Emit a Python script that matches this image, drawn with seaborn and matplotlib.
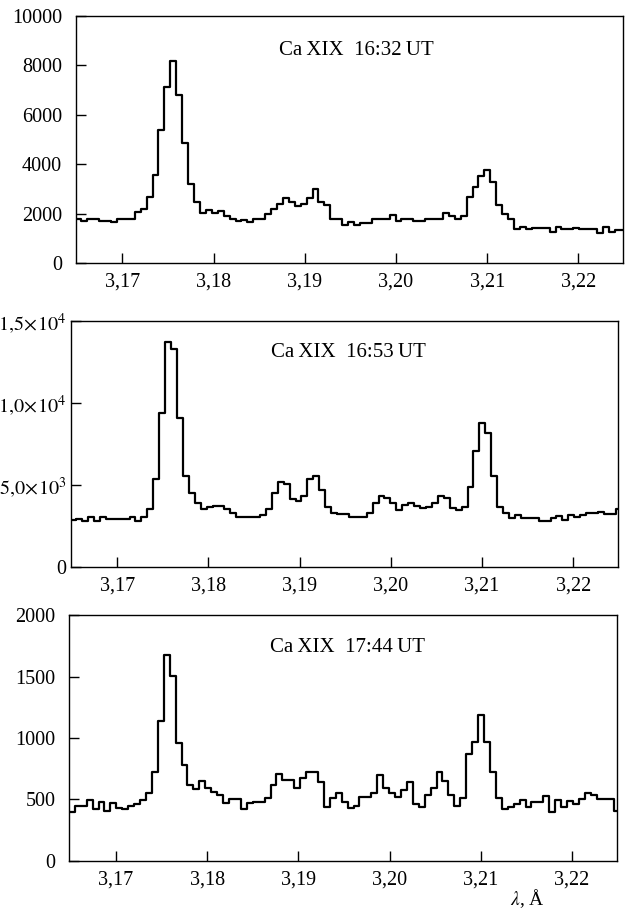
import numpy as np
import pandas as pd
import matplotlib
matplotlib.use("Agg")
import matplotlib.pyplot as plt
from matplotlib.ticker import FixedLocator, FixedFormatter
import seaborn as sns

# wavelength grid of the spectrometer bins (Angstrom)
lam_start = 3.16485
lam_step = 0.00065

counts_1632 = [
    1780, 1690, 1780, 1780, 1700, 1700, 1660, 1780, 1780, 1800,
    2080, 2180, 2680, 3570, 5380, 7140, 8180, 6820, 4840, 3190,
    2490, 2030, 2160, 2040, 2090, 1890, 1800, 1690, 1760, 1650,
    1800, 1780, 2000, 2180, 2400, 2650, 2490, 2310, 2400, 2650,
    2990, 2470, 2340, 1800, 1800, 1530, 1660, 1530, 1600, 1600,
    1800, 1800, 1800, 1960, 1700, 1770, 1770, 1700, 1700, 1770,
    1770, 1800, 2030, 1890, 1770, 1890, 2680, 3080, 3530, 3760,
    3280, 2340, 2000, 1770, 1390, 1460, 1380, 1400, 1400, 1400,
    1240, 1460, 1380, 1380, 1400, 1360, 1360, 1360, 1220, 1460,
    1270, 1350, 1350,
]
counts_1653 = [
    2880, 2960, 2840, 3080, 2840, 3080, 2960, 2960, 2960, 2960,
    3080, 2840, 3080, 3530, 5350, 9370, 13730, 13290, 9070, 5560,
    4500, 3890, 3530, 3650, 3750, 3750, 3530, 3290, 3040, 3040,
    3040, 3080, 3180, 3530, 4540, 5170, 5070, 4140, 4060, 4340,
    5350, 5560, 4700, 3690, 3330, 3230, 3230, 3080, 3080, 3080,
    3330, 3940, 4360, 4200, 3890, 3490, 3790, 3940, 3730, 3590,
    3690, 3890, 4360, 4200, 3590, 3490, 3690, 4910, 7100, 8760,
    8190, 5560, 3690, 3330, 2980, 3180, 2980, 2980, 2980, 2840,
    2840, 2980, 3120, 2880, 3180, 3080, 3180, 3290, 3290, 3350,
    3230, 3230, 3530,
]
counts_1744 = [
    401, 447, 447, 496, 420, 477, 407, 469, 428, 420,
    447, 463, 496, 556, 726, 1141, 1675, 1504, 962, 783,
    618, 585, 650, 591, 558, 537, 469, 501, 501, 420,
    469, 482, 482, 515, 618, 705, 659, 659, 591, 678,
    726, 726, 645, 436, 509, 550, 482, 434, 450, 518,
    518, 556, 699, 591, 550, 518, 577, 645, 461, 442,
    537, 591, 726, 653, 537, 447, 509, 870, 965, 1187,
    965, 726, 509, 420, 436, 461, 496, 442, 482, 482,
    531, 401, 496, 442, 491, 463, 501, 556, 537, 501,
    501, 501, 409,
]

x_ticks = [3.17, 3.18, 3.19, 3.20, 3.21, 3.22]
x_tick_labels = ["3,17", "3,18", "3,19", "3,20", "3,21", "3,22"]

y_ticks_1632 = [0, 2000, 4000, 6000, 8000, 10000]
y_labels_1632 = ["0", "2000", "4000", "6000", "8000", "10000"]
y_ticks_1653 = [0, 5000, 10000, 15000]
y_labels_1653 = ["0", r"$5{,}0\!\times\!10^3$", r"$1{,}0\!\times\!10^4$", r"$1{,}5\!\times\!10^4$"]
y_ticks_1744 = [0, 500, 1000, 1500, 2000]
y_labels_1744 = ["0", "500", "1000", "1500", "2000"]

titles = ["Ca\u2009XIX  16:32\u2009UT", "Ca\u2009XIX  16:53\u2009UT", "Ca\u2009XIX  17:44\u2009UT"]

sns.set_theme(style="white")
plt.rcParams["font.family"] = ["Liberation Serif", "DejaVu Serif"]
plt.rcParams["mathtext.fontset"] = "stix"

fig = plt.figure(figsize=(6.28, 9.11), dpi=100)

boxes = [
    [0.1210, 0.7113, 0.8710, 0.2711],
    [0.1126, 0.3773, 0.8715, 0.2704],
    [0.1104, 0.0549, 0.8717, 0.2700],
]
panels = [
    (counts_1632, y_ticks_1632, y_labels_1632, (0.512, 0.862), 10),
    (counts_1653, y_ticks_1653, y_labels_1653, (0.508, 0.870), 3),
    (counts_1744, y_ticks_1744, y_labels_1744, (0.508, 0.866), 10),
]

for box, (counts, yt, yl, txt_pos, ypad), title in zip(boxes, panels, titles):
    ax = fig.add_axes(box)
    n = len(counts)
    edges = lam_start + lam_step * np.arange(n + 1)
    df = pd.DataFrame({"lam": edges[:-1] + lam_step / 2, "counts": counts})
    sns.histplot(df, x="lam", weights="counts", bins=edges.tolist(), element="step",
                 fill=False, color="black", linewidth=1.6, ax=ax)
    ax.set_xlim(3.1649, 3.2249)
    ax.set_ylim(yt[0], yt[-1])
    ax.set_xlabel("")
    ax.set_ylabel("")
    ax.xaxis.set_major_locator(FixedLocator(x_ticks))
    ax.xaxis.set_major_formatter(FixedFormatter(x_tick_labels))
    ax.yaxis.set_major_locator(FixedLocator(yt))
    ax.yaxis.set_major_formatter(FixedFormatter(yl))
    ax.tick_params(direction="in", length=7, width=1.0, colors="black",
                   labelsize=14.5, bottom=True, left=True, top=False, right=False)
    ax.tick_params(axis="x", pad=7)
    ax.tick_params(axis="y", pad=ypad)
    for sp in ax.spines.values():
        sp.set_linewidth(1.0)
        sp.set_color("black")
    ax.text(txt_pos[0], txt_pos[1], title, transform=ax.transAxes,
            ha="center", va="center", fontsize=15, color="black")

fig.text(527 / 628, 1 - 899 / 911, r"$\lambda$, Å", ha="center", va="center",
         fontsize=14, color="black")

plt.savefig("out.png", dpi=100)
plt.close()
